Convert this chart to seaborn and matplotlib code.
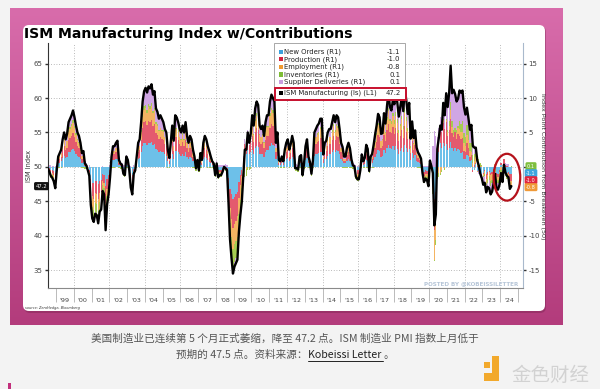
import numpy as np
import pandas as pd
import matplotlib
matplotlib.use("Agg")
import matplotlib.pyplot as plt
import seaborn as sns
from matplotlib.patches import Rectangle, FancyBboxPatch, Ellipse
from matplotlib.transforms import IdentityTransform
from matplotlib.colors import LinearSegmentedColormap
from matplotlib.lines import Line2D
from matplotlib.ticker import FixedLocator, NullFormatter, FuncFormatter

# ---------------- data (monthly, Jul 1998 - Aug 2024) ----------------
START = "1998-07"

ism = [
    49.8, 49.3, 48.7, 48.4, 47.9, 46.9,
    49.5, 51.5, 52.0, 52.5, 54.0, 55.0, 54.0, 54.8, 56.5, 57.0, 57.5, 58.2,
    57.2, 56.0, 55.0, 54.5, 53.5, 52.0, 52.3, 50.5, 50.2, 49.5, 48.7, 44.5,
    42.5, 42.0, 43.2, 43.0, 41.8, 43.5, 43.8, 46.5, 46.0, 40.8, 44.5, 46.0,
    48.5, 51.5, 53.0, 53.0, 53.5, 53.8, 51.0, 50.5, 50.3, 49.0, 48.8, 51.5,
    51.0, 49.5, 47.0, 46.0, 49.0, 49.5, 51.5, 53.5, 54.0, 56.5, 59.5, 61.0,
    61.5, 60.8, 61.7, 61.4, 62.0, 60.5, 61.0, 58.5, 58.0, 57.0, 57.5, 57.0,
    56.5, 55.5, 55.0, 52.5, 51.3, 53.5, 56.0, 53.8, 57.5, 57.2, 56.5, 55.5,
    55.0, 56.0, 55.0, 56.5, 54.5, 53.5, 54.5, 54.0, 52.5, 51.5, 49.8, 51.0,
    49.5, 52.0, 51.0, 53.5, 54.5, 54.0, 53.0, 52.3, 51.5, 50.8, 50.5, 48.8,
    50.5, 48.5, 48.8, 48.8, 49.3, 50.0, 49.8, 49.5, 44.8, 39.5, 36.8, 34.5,
    35.5, 36.0, 36.5, 40.5, 43.0, 45.0, 48.8, 52.5, 52.5, 55.0, 53.5, 54.8,
    57.5, 56.0, 58.5, 59.5, 59.0, 56.0, 55.5, 56.0, 54.5, 56.5, 57.5, 57.5,
    59.5, 60.5, 60.0, 59.5, 53.5, 55.0, 51.0, 50.8, 51.5, 50.8, 52.5, 53.5,
    54.0, 52.5, 53.3, 54.5, 53.5, 49.8, 49.8, 49.6, 51.5, 51.7, 48.8, 50.5,
    53.0, 54.0, 51.5, 50.7, 49.0, 50.9, 55.0, 55.5, 56.0, 56.3, 57.0, 57.0,
    51.8, 53.5, 53.8, 55.0, 55.5, 55.5, 56.5, 57.5, 56.5, 57.5, 57.2, 55.5,
    53.5, 52.9, 51.5, 51.5, 52.8, 53.5, 52.7, 51.1, 50.2, 50.1, 48.6, 48.2,
    48.2, 49.5, 51.8, 50.8, 51.3, 53.2, 52.6, 49.4, 51.5, 51.9, 53.2, 54.7,
    56.0, 57.7, 57.2, 54.8, 54.9, 57.8, 56.3, 58.8, 60.8, 58.7, 58.2, 59.7,
    59.1, 60.8, 59.3, 57.3, 58.7, 60.2, 58.1, 61.3, 59.8, 57.7, 59.3, 54.1,
    56.6, 54.2, 55.3, 52.8, 52.1, 51.7, 51.2, 49.1, 47.8, 48.3, 48.1, 47.2,
    50.9, 50.1, 49.1, 41.5, 43.1, 52.6, 54.2, 56.0, 55.4, 59.3, 57.5, 60.7,
    58.7, 60.8, 64.7, 60.7, 61.2, 60.6, 59.5, 59.9, 61.1, 60.8, 61.1, 58.7,
    57.6, 58.6, 57.1, 55.4, 56.1, 53.0, 52.8, 52.8, 50.9, 50.2, 49.0, 48.4,
    47.4, 47.7, 46.3, 47.1, 46.9, 46.0, 46.4, 47.6, 49.0, 46.7, 46.7, 47.4,
    49.1, 47.8, 50.3, 49.2, 48.7, 48.5, 46.8, 47.2,
]

new_orders = [
    -0.1, -0.2, -0.4, -0.5, -0.6, -0.9,
    -0.2, 0.5, 0.6, 0.8, 1.3, 1.6, 1.3, 1.5, 2.1, 2.2, 2.4, 2.6,
    2.3, 1.9, 1.6, 1.4, 1.1, 0.6, 0.7, 0.2, 0.1, -0.2, -0.4, -1.7,
    -2.3, -2.4, -2.0, -2.1, -2.5, -2.0, -1.9, -1.1, -1.2, -2.8, -1.7, -1.2,
    -0.5, 0.5, 1.0, 1.0, 1.1, 1.2, 0.3, 0.2, 0.1, -0.3, -0.4, 0.5,
    0.3, -0.2, -0.9, -1.2, -0.3, -0.2, 0.5, 1.1, 1.3, 2.1, 3.0, 3.4,
    3.5, 3.2, 3.5, 3.4, 3.6, 3.2, 3.3, 2.6, 2.4, 2.1, 2.3, 2.1,
    2.1, 1.8, 1.6, 0.8, 0.4, 1.1, 1.9, 1.2, 2.3, 2.3, 2.1, 1.8,
    1.6, 1.9, 1.6, 2.1, 1.4, 1.1, 1.4, 1.3, 0.8, 0.5, -0.1, 0.3,
    -0.2, 0.6, 0.3, 1.1, 1.4, 1.3, 1.0, 0.7, 0.5, 0.3, 0.2, -0.4,
    0.2, -0.5, -0.4, -0.4, -0.2, 0.0, -0.1, -0.2, -1.6, -3.2, -4.0, -4.7,
    -4.4, -4.0, -3.6, -2.2, -1.2, -0.5, 0.8, 2.0, 1.8, 2.4, 1.8, 2.1,
    2.4, 1.9, 2.7, 3.0, 2.9, 1.9, 1.8, 1.9, 1.4, 2.1, 2.4, 2.4,
    3.0, 3.4, 3.2, 3.0, 1.1, 1.6, 0.3, 0.3, 0.5, 0.3, 0.8, 1.1,
    1.3, 0.8, 1.1, 1.4, 1.1, -0.1, -0.1, -0.1, 0.5, 0.5, -0.4, 0.2,
    1.0, 1.3, 0.5, 0.2, -0.3, 0.3, 1.6, 1.8, 1.9, 2.0, 2.2, 2.2,
    0.6, 1.1, 1.2, 1.6, 1.8, 1.8, 2.1, 2.4, 2.1, 2.4, 2.3, 1.8,
    1.1, 0.9, 0.5, 0.5, 0.9, 1.1, 0.9, 0.4, 0.1, 0.1, -0.4, -0.5,
    -0.5, -0.2, 0.6, 0.3, 0.4, 1.0, 0.8, -0.2, 0.5, 0.6, 1.0, 1.5,
    1.9, 2.5, 2.3, 1.5, 1.6, 2.5, 2.0, 2.8, 3.2, 2.7, 2.6, 3.1,
    2.5, 3.0, 2.6, 1.9, 2.3, 2.8, 2.2, 3.2, 2.7, 2.1, 2.6, 1.0,
    2.0, 1.3, 1.7, 0.9, 0.7, 0.5, 0.4, -0.3, -0.7, -0.5, -0.6, -0.8,
    0.3, 0.0, -1.6, -4.6, -3.6, 1.2, 2.2, 3.4, 2.7, 3.4, 3.1, 3.3,
    2.4, 2.8, 3.6, 2.7, 2.3, 2.8, 2.3, 2.6, 2.4, 2.0, 2.2, 1.2,
    1.1, 1.7, 1.6, 0.8, 1.0, -0.4, -0.4, 0.4, -0.6, -0.5, -0.9, -1.1,
    -0.9, -0.5, -1.1, -0.7, -0.6, -0.9, -0.7, -0.3, -0.3, -0.9, -1.0, -0.4,
    0.3, -0.6, 0.3, -0.4, -0.9, -0.8, -1.0, -1.1,
]

production = [
    -0.1, -0.2, -0.4, -0.4, -0.6, -0.8,
    -0.1, 0.4, 0.6, 0.7, 1.1, 1.4, 1.1, 1.3, 1.8, 2.0, 2.1, 2.3,
    2.0, 1.7, 1.4, 1.3, 1.0, 0.6, 0.6, 0.1, 0.1, -0.1, -0.4, -1.5,
    -2.0, -2.2, -1.8, -1.9, -2.2, -1.8, -1.7, -0.9, -1.1, -2.5, -1.5, -1.1,
    -0.4, 0.4, 0.8, 0.8, 1.0, 1.1, 0.3, 0.1, 0.1, -0.3, -0.3, 0.4,
    0.3, -0.1, -0.8, -1.1, -0.3, -0.1, 0.4, 1.0, 1.1, 1.8, 2.7, 3.1,
    3.1, 2.9, 3.2, 3.1, 3.2, 2.8, 3.0, 2.3, 2.2, 1.9, 2.0, 1.9,
    1.8, 1.5, 1.4, 0.7, 0.4, 1.0, 1.7, 1.1, 2.0, 2.0, 1.8, 1.5,
    1.4, 1.7, 1.4, 1.8, 1.3, 1.0, 1.3, 1.1, 0.7, 0.4, -0.1, 0.3,
    -0.1, 0.6, 0.3, 1.0, 1.3, 1.1, 0.8, 0.6, 0.4, 0.2, 0.1, -0.3,
    0.1, -0.4, -0.3, -0.3, -0.2, 0.0, -0.1, -0.1, -1.4, -2.8, -3.6, -4.2,
    -3.9, -3.8, -3.6, -2.3, -1.5, -0.8, 0.5, 1.3, 1.3, 1.9, 1.4, 1.8,
    2.1, 1.7, 2.4, 2.7, 2.5, 1.7, 1.5, 1.7, 1.3, 1.8, 2.1, 2.1,
    2.7, 2.9, 2.8, 2.7, 1.0, 1.4, 0.3, 0.2, 0.4, 0.2, 0.7, 1.0,
    1.1, 0.7, 0.9, 1.3, 1.0, -0.1, -0.1, -0.1, 0.4, 0.5, -0.3, 0.1,
    0.8, 1.1, 0.4, 0.2, -0.3, 0.3, 1.4, 1.5, 1.7, 1.8, 2.0, 2.0,
    0.5, 1.0, 1.1, 1.4, 1.5, 1.5, 1.8, 2.1, 1.8, 2.1, 2.0, 1.5,
    1.0, 0.8, 0.4, 0.4, 0.8, 1.0, 0.8, 0.3, 0.1, 0.0, -0.4, -0.5,
    -0.5, -0.1, 0.5, 0.2, 0.4, 0.9, 0.7, -0.2, 0.4, 0.5, 0.9, 1.3,
    1.7, 2.2, 2.0, 1.3, 1.4, 2.2, 1.8, 2.5, 3.0, 2.4, 2.3, 2.7,
    2.3, 2.7, 2.3, 1.8, 2.2, 2.5, 2.0, 2.8, 2.4, 1.9, 2.4, 1.0,
    1.8, 1.2, 1.5, 0.8, 0.6, 0.5, 0.3, -0.2, -0.6, -0.5, -0.5, -0.8,
    0.3, 0.1, -0.5, -4.5, -3.4, 1.2, 2.2, 2.6, 2.4, 3.0, 2.4, 3.2,
    2.1, 2.6, 3.4, 2.2, 2.1, 2.2, 1.8, 2.2, 2.1, 2.0, 2.0, 1.1,
    1.1, 1.8, 1.1, 0.7, 0.7, -0.3, 0.3, 0.2, 0.1, 0.4, -0.1, -0.5,
    -0.2, -0.1, -0.6, -0.5, -0.1, -0.3, -0.4, -0.4, 0.2, -0.3, -0.4, -0.4,
    0.2, -0.3, 0.9, 0.3, 0.1, -0.3, -1.1, -1.0,
]

employment = [
    0.0, -0.1, -0.3, -0.3, -0.4, -0.6,
    -0.1, 0.3, 0.4, 0.5, 0.7, 0.9, 0.7, 0.9, 1.2, 1.3, 1.4, 1.5,
    1.3, 1.1, 0.9, 0.8, 0.6, 0.4, 0.4, 0.1, 0.0, -0.1, -0.3, -1.1,
    -1.5, -1.6, -1.4, -1.4, -1.6, -1.3, -1.2, -0.7, -0.8, -1.8, -1.1, -0.8,
    -0.3, 0.3, 0.5, 0.5, 0.6, 0.7, 0.2, 0.1, 0.1, -0.2, -0.2, 0.3,
    0.2, -0.1, -0.6, -0.8, -0.2, -0.1, 0.3, 0.6, 0.7, 1.2, 1.6, 1.8,
    2.0, 1.8, 2.0, 1.9, 2.0, 1.8, 1.9, 1.4, 1.4, 1.2, 1.3, 1.2,
    1.2, 1.0, 0.9, 0.5, 0.2, 0.6, 1.1, 0.7, 1.2, 1.2, 1.2, 1.0,
    0.9, 1.1, 0.9, 1.2, 0.8, 0.6, 0.8, 0.7, 0.5, 0.3, 0.0, 0.2,
    -0.1, 0.4, 0.2, 0.6, 0.8, 0.7, 0.5, 0.4, 0.3, 0.1, 0.1, -0.2,
    0.1, -0.3, -0.2, -0.2, -0.1, 0.0, 0.0, -0.1, -1.0, -2.1, -2.6, -3.1,
    -2.9, -2.9, -3.0, -2.4, -2.1, -1.8, -1.2, -0.5, -0.3, 0.2, 0.0, 0.3,
    1.3, 1.1, 1.5, 1.7, 1.6, 1.1, 1.0, 1.1, 0.8, 1.2, 1.3, 1.3,
    1.7, 1.9, 1.8, 1.7, 0.6, 0.9, 0.2, 0.1, 0.3, 0.1, 0.5, 0.6,
    0.7, 0.5, 0.6, 0.8, 0.6, 0.0, 0.0, -0.1, 0.3, 0.3, -0.2, 0.1,
    0.5, 0.7, 0.3, 0.1, -0.2, 0.2, 0.9, 1.0, 1.1, 1.1, 1.3, 1.3,
    0.3, 0.6, 0.7, 0.9, 1.0, 1.0, 1.2, 1.4, 1.2, 1.4, 1.3, 1.0,
    0.6, 0.5, 0.3, 0.3, 0.5, 0.6, 0.5, 0.2, 0.0, 0.0, -0.3, -0.4,
    -0.4, -0.1, 0.3, 0.1, 0.2, 0.6, 0.5, -0.1, 0.3, 0.3, 0.6, 0.8,
    1.1, 1.4, 1.3, 0.9, 0.9, 1.4, 1.1, 1.5, 1.9, 1.5, 1.4, 1.6,
    1.5, 1.7, 1.5, 1.2, 1.4, 1.6, 1.3, 1.8, 1.6, 1.2, 1.5, 0.8,
    1.2, 0.8, 1.0, 0.5, 0.4, 0.3, 0.2, -0.2, -0.5, -0.3, -0.4, -0.6,
    0.1, 0.0, -1.2, -4.5, -3.6, -1.4, -0.9, -0.9, -0.4, 0.4, -0.2, 0.3,
    0.5, 0.6, 1.2, 0.9, 0.2, 0.1, 0.8, 0.9, 1.0, 1.0, 0.8, 1.1,
    0.8, 1.1, 1.2, 0.8, 0.5, 0.5, 0.5, 0.8, -0.1, 0.1, 0.2, 0.1,
    -0.2, -0.4, -0.6, -0.6, -0.6, -0.8, -0.8, -0.6, 0.2, -0.5, -0.5, -0.6,
    -0.5, -0.5, -0.2, -0.3, -0.2, -0.6, -0.9, -0.8,
]

inventories = [
    -0.4, -0.5, -0.5, -0.6, -0.7, -0.8,
    -0.4, -0.2, -0.1, -0.1, 0.0, 0.1, 0.0, 0.1, 0.2, 0.3, 0.3, 0.4,
    0.3, 0.2, 0.1, 0.1, 0.0, -0.1, -0.1, -0.3, -0.3, -0.4, -0.5, -1.2,
    -1.5, -1.6, -1.4, -1.4, -1.6, -1.3, -1.3, -0.9, -0.9, -1.7, -1.2, -0.9,
    -0.6, -0.2, -0.1, -0.1, 0.0, 0.0, -0.2, -0.3, -0.3, -0.5, -0.5, -0.2,
    -0.2, -0.4, -0.8, -0.9, -0.5, -0.4, -0.2, 0.0, 0.0, 0.2, 0.5, 0.6,
    0.4, 0.4, 0.5, 0.4, 0.5, 0.3, 0.4, 0.2, 0.2, 0.1, 0.1, 0.1,
    0.2, 0.1, 0.1, -0.1, -0.2, 0.0, 0.2, 0.0, 0.2, 0.2, 0.2, 0.1,
    0.1, 0.2, 0.1, 0.2, 0.1, 0.0, 0.1, 0.0, -0.1, -0.2, -0.4, -0.2,
    -0.4, -0.1, -0.2, 0.0, 0.1, 0.0, -0.1, -0.1, -0.2, -0.2, -0.3, -0.5,
    -0.3, -0.6, -0.5, -0.5, -0.5, -0.3, -0.4, -0.4, -1.1, -1.9, -2.3, -2.7,
    -2.6, -2.6, -2.6, -2.2, -2.0, -1.9, -1.6, -1.0, -1.0, -0.4, -0.5, -0.3,
    0.2, 0.1, 0.3, 0.4, 0.3, 0.1, 0.1, 0.1, 0.1, 0.2, 0.2, 0.2,
    0.4, 0.4, 0.4, 0.4, 0.0, 0.1, -0.2, -0.2, -0.2, -0.2, -0.1, 0.0,
    0.0, -0.1, 0.0, 0.1, 0.0, -0.4, -0.4, -0.4, -0.2, -0.2, -0.5, -0.3,
    -0.1, 0.0, -0.2, -0.2, -0.5, -0.2, 0.1, 0.1, 0.2, 0.2, 0.3, 0.3,
    -0.2, 0.0, 0.0, 0.1, 0.1, 0.1, 0.2, 0.3, 0.2, 0.3, 0.3, 0.1,
    0.0, -0.1, -0.2, -0.2, -0.1, 0.0, -0.1, -0.2, -0.3, -0.3, -0.6, -0.6,
    -0.6, -0.4, -0.2, -0.2, -0.2, -0.1, -0.1, -0.4, -0.2, -0.1, -0.1, 0.1,
    0.2, 0.3, 0.3, 0.1, 0.1, 0.3, 0.2, 0.4, 0.5, 0.3, 0.3, 0.4,
    0.5, 0.6, 0.5, 0.4, 0.4, 0.5, 0.4, 0.7, 0.6, 0.5, 0.5, 0.3,
    0.3, 0.1, 0.2, 0.0, -0.1, -0.1, -0.1, -0.4, -0.6, -0.6, -0.6, -0.7,
    -0.2, -0.4, -0.6, -0.1, -0.8, -0.4, -0.6, -0.3, -0.3, 0.1, -0.2, 0.2,
    0.4, 0.6, 1.2, 0.8, 0.8, 0.6, 0.4, 0.2, 1.1, 1.3, 1.6, 1.5,
    1.3, 1.5, 1.4, 1.2, 1.3, 1.2, 1.0, 1.0, 0.8, 0.7, 0.4, 0.2,
    -0.2, -0.3, -0.4, -0.5, -0.6, -0.8, -0.5, -0.5, -0.5, -0.5, -0.5, -0.6,
    -0.4, -0.5, -0.6, -0.6, -0.6, -0.2, -0.2, 0.1,
]

supplier_deliveries = [
    0.3, 0.3, 0.3, 0.2, 0.2, 0.1,
    0.3, 0.5, 0.6, 0.7, 0.9, 1.0, 0.9, 1.0, 1.2, 1.3, 1.4, 1.4,
    1.3, 1.1, 1.0, 0.9, 0.8, 0.6, 0.6, 0.4, 0.3, 0.3, 0.3, -0.1,
    -0.2, -0.3, -0.2, -0.2, -0.3, -0.1, -0.1, 0.1, 0.0, -0.4, -0.1, 0.0,
    0.3, 0.5, 0.7, 0.7, 0.8, 0.8, 0.4, 0.4, 0.3, 0.3, 0.3, 0.5,
    0.4, 0.3, 0.1, 0.0, 0.3, 0.3, 0.5, 0.8, 0.9, 1.2, 1.7, 2.1,
    2.5, 2.5, 2.5, 2.6, 2.7, 2.4, 2.4, 2.0, 1.8, 1.7, 1.8, 1.7,
    1.2, 1.1, 1.0, 0.7, 0.5, 0.8, 1.1, 0.8, 1.8, 1.5, 1.2, 1.1,
    1.0, 1.1, 1.0, 1.2, 0.9, 0.8, 0.9, 0.9, 0.7, 0.5, 0.4, 0.4,
    0.3, 0.6, 0.4, 0.8, 0.9, 0.9, 0.7, 0.6, 0.5, 0.4, 0.4, 0.3,
    0.4, 0.3, 0.3, 0.3, 0.3, 0.3, 0.4, 0.3, -0.1, -0.5, -0.7, -0.8,
    -0.7, -0.7, -0.7, -0.4, -0.2, 0.0, 0.3, 0.7, 0.7, 0.9, 0.8, 0.9,
    1.5, 1.2, 1.6, 1.7, 1.7, 1.2, 1.1, 1.2, 0.9, 1.2, 1.5, 1.5,
    1.7, 1.9, 1.8, 1.7, 0.8, 1.0, 0.4, 0.4, 0.5, 0.4, 0.7, 0.8,
    0.9, 0.7, 0.7, 0.9, 0.8, 0.4, 0.4, 0.3, 0.5, 0.5, 0.3, 0.4,
    0.7, 0.9, 0.5, 0.4, 0.3, 0.4, 1.0, 1.1, 1.1, 1.2, 1.3, 1.3,
    0.6, 0.8, 0.8, 1.0, 1.1, 1.1, 1.2, 1.3, 1.2, 1.3, 1.3, 1.1,
    0.8, 0.7, 0.5, 0.5, 0.7, 0.8, 0.7, 0.4, 0.3, 0.3, 0.3, 0.2,
    0.2, 0.3, 0.6, 0.4, 0.5, 0.8, 0.7, 0.3, 0.5, 0.6, 0.8, 1.0,
    1.1, 1.3, 1.3, 1.0, 0.9, 1.4, 1.2, 1.6, 2.2, 1.8, 1.6, 1.9,
    2.3, 2.8, 2.4, 2.0, 2.4, 2.8, 2.2, 2.8, 2.5, 2.0, 2.3, 1.0,
    1.3, 0.8, 0.9, 0.6, 0.5, 0.5, 0.4, 0.2, 0.2, 0.2, 0.2, 0.1,
    0.4, 0.4, 3.0, 5.2, 4.5, 2.0, 1.3, 1.2, 1.0, 2.4, 2.4, 3.7,
    3.3, 4.2, 5.3, 4.1, 5.8, 4.9, 4.2, 4.0, 4.5, 4.5, 4.5, 3.8,
    3.3, 2.5, 1.8, 1.9, 2.6, 2.0, 1.4, 0.4, 0.7, -0.5, -0.6, -0.3,
    -1.1, -1.0, -1.0, -0.6, -1.2, -1.2, -1.2, -0.6, -0.6, -1.1, -0.9, -0.6,
    -0.5, -0.3, -0.1, 0.2, 0.3, 0.4, 0.0, 0.1,
]

series_names = ["New Orders (R1)", "Production (R1)", "Employment (R1)",
                "Inventories (R1)", "Supplier Deliveries (R1)"]
line_name = "ISM Manufacturing (ls) (L1)"
year_labels = ["'99", "'00", "'01", "'02", "'03", "'04", "'05", "'06", "'07",
               "'08", "'09", "'10", "'11", "'12", "'13", "'14", "'15", "'16",
               "'17", "'18", "'19", "'20", "'21", "'22", "'23", "'24"]
left_ticks = [35, 40, 45, 50, 55, 60, 65]
right_ticks = [-15, -10, -5, 0, 5, 10, 15]

TITLE = "ISM Manufacturing Index w/Contributions"
CAP1 = "美国制造业已连续第 5 个月正式萎缩，降至 47.2 点。ISM 制造业 PMI 指数上月低于"
CAP2A = "预期的 47.5 点。资料来源："
CAP2B = "Kobeissi Letter "
CAP2C = "。"

comps = [new_orders, production, employment, inventories, supplier_deliveries]
for c in comps:
    assert len(c) == len(ism), (len(c), len(ism))

bar_colors = ['#6dc0e9', '#e45a6e', '#f4b462', '#a6cc52', '#d0a6e4']
leg_colors = ['#3aa0dc', '#d3203c', '#f09a30', '#7cbc34', '#c89ee0']

# ---------------- figure ----------------
W, H = 600, 389
sns.set_style("white")
plt.rcParams['font.family'] = ['DejaVu Sans']
CJK = ['Noto Sans CJK SC', 'DejaVu Sans']

fig = plt.figure(figsize=(W / 100, H / 100), dpi=100)
fig.patch.set_facecolor('#f3f3f3')
RND = fig.canvas.get_renderer()
IT = IdentityTransform()


def FX(x):
    return x / W


def FY(y):
    return 1 - y / H


def box_px(x0, y0, x1, y1, z=10, **kw):
    p = Rectangle((x0, H - y1), x1 - x0, y1 - y0, transform=IT, zorder=z, **kw)
    fig.add_artist(p)
    return p


def text_px(x, y, s, z=12, **kw):
    return fig.text(FX(x), FY(y), s, zorder=z, **kw)


def fit(txt, target, along='w'):
    bb = txt.get_window_extent(RND)
    cur = bb.width if along == 'w' else bb.height
    txt.set_fontsize(txt.get_fontsize() * target / cur)


# pink frame with gradient
bg = fig.add_axes([FX(9.5), FY(325), (562 - 9.5) / W, (325 - 8) / H], zorder=-10)
bg.imshow(np.linspace(0, 1, 200).reshape(-1, 1), aspect='auto',
          cmap=LinearSegmentedColormap.from_list('pk', ['#d86cab', '#b33c7c']),
          extent=[0, 1, 0, 1])
bg.set_axis_off()

# white panel
fig.add_artist(FancyBboxPatch((24, H - 313), 522, 313 - 26,
                              boxstyle="round,pad=0,rounding_size=6", transform=IT,
                              fc='#6a1f45', ec='none', alpha=0.35, zorder=-6))
fig.add_artist(FancyBboxPatch((23, H - 311), 545 - 23, 311 - 25,
                              boxstyle="round,pad=0,rounding_size=6", transform=IT,
                              fc='white', ec='none', zorder=-5))

# axes
AL, AR, AT, AB = 48, 523, 43, 288
ax = fig.add_axes([FX(AL), FY(AB), (AR - AL) / W, (AB - AT) / H])
ax2 = ax.twinx()
ax.set_zorder(3)
ax.patch.set_visible(False)

dates = pd.date_range(START, periods=len(ism), freq="MS")
t = np.asarray(dates.year + (dates.month - 0.5) / 12.0, dtype=float)
n = len(t)

# stacked contribution bars (right axis)
pos_base = np.zeros(n)
neg_base = np.zeros(n)
bw = 1 / 12 * 0.85
for vals, col in zip(comps, bar_colors):
    v = np.asarray(vals, dtype=float)
    p = np.clip(v, 0, None)
    q = np.clip(v, None, 0)
    ax2.bar(t, p, bottom=pos_base, width=bw, color=col, linewidth=0, zorder=2)
    ax2.bar(t, q, bottom=neg_base, width=bw, color=col, linewidth=0, zorder=2)
    pos_base += p
    neg_base += q

# ISM line (left axis)
sns.lineplot(x=t, y=np.asarray(ism), ax=ax, color='black', linewidth=1.7,
             zorder=5, legend=False)

ax.set_xlim(1998.55, 2025.28)
ax.set_ylim(32.4, 68.0)
ax2.set_ylim(-17.6, 18.0)

# grid
grid_kw = dict(color='#a3a3a3', linestyle=(0, (1, 2.2)), linewidth=0.6)
ax2.set_yticks(right_ticks)
ax2.yaxis.grid(True, **grid_kw)
ax2.set_axisbelow(True)
for yr in range(2000, 2025, 2):
    ax2.axvline(yr, zorder=0.5, **grid_kw)
ax.grid(False)

# y ticks
ax.set_yticks(left_ticks)
ax.set_ylabel('')
ax.set_xlabel('')
ax.tick_params(axis='y', which='major', direction='out', length=2.5, width=1.0,
               color='#333333', labelsize=5, labelcolor='#444444', pad=1.5,
               left=True)
ax2.yaxis.set_major_formatter(FuncFormatter(lambda v, p: '' if abs(v) < 1e-9 else f"{v:g}"))
ax2.tick_params(axis='y', which='major', direction='out', length=2.5, width=1.0,
                color='#333333', labelsize=5, labelcolor='#444444', pad=1.5,
                right=True)

# x ticks: separators at year boundaries, labels mid-year
ax.xaxis.set_major_locator(FixedLocator(list(range(1999, 2026))))
ax.xaxis.set_major_formatter(NullFormatter())
ax.set_xticks([y + 0.5 for y in range(1999, 2025)], minor=True)
ax.set_xticklabels(year_labels, minor=True)
ax.tick_params(axis='x', which='major', direction='out', length=10, width=0.5,
               color='#a0a0a0', bottom=True)
ax.tick_params(axis='x', which='minor', length=0, pad=7, labelsize=4.6,
               labelcolor='#444444', bottom=True)

# spines
for s in ['top', 'right']:
    ax.spines[s].set_visible(False)
ax.spines['left'].set_color('#333333')
ax.spines['left'].set_linewidth(0.8)
ax.spines['bottom'].set_color('#8a8a8a')
ax.spines['bottom'].set_linewidth(0.8)
for s in ['top', 'left', 'bottom']:
    ax2.spines[s].set_visible(False)
ax2.spines['right'].set_color('#a9b9cc')
ax2.spines['right'].set_linewidth(0.8)

# highlight ellipse
last12 = np.asarray(ism[-12:])
ax.add_patch(Ellipse((t[-1] - 0.25, (last12.min() + last12.max()) / 2), width=1.5,
                     height=6.8, fill=False, edgecolor='#b5121b', linewidth=1.6,
                     zorder=6, clip_on=False))

# last value tags
ax.annotate(f"{ism[-1]:.1f}", xy=(0, ism[-1]), xycoords=('axes fraction', 'data'),
            xytext=(-6.5, 0), textcoords='offset pixels', ha='center', va='center',
            fontsize=3.8, color='white', annotation_clip=False, zorder=20,
            bbox=dict(boxstyle='round,pad=0.3,rounding_size=0.3', fc='#111111', ec='none'))
tags = [(inventories, '#7fbf3f'), (new_orders, '#3ea6df'),
        (production, '#e0263f'), (employment, '#f09a38')]
for i, (vals, col) in enumerate(tags):
    ax2.annotate(f"{vals[-1]:.1f}", xy=(1, inventories[-1]),
                 xycoords=('axes fraction', 'data'), xytext=(8, -7 * i),
                 textcoords='offset pixels', ha='center', va='center',
                 fontsize=3.6, color='white', annotation_clip=False, zorder=20,
                 bbox=dict(boxstyle='round,pad=0.3,rounding_size=0.3', fc=col, ec='none'))

# axis labels
t_yl = text_px(29, 166, "ISM Index", rotation=90, ha='center', va='center',
               fontsize=5.5, color='#333333')
fit(t_yl, 32, 'h')
t_yr = text_px(542, 166, "Index Point Contribution from Breakeven (50)", rotation=270,
               ha='center', va='center', fontsize=5.5, color='#333333')
fit(t_yr, 145, 'h')

# legend
box_px(274, 43, 405, 99.5, z=14, fc='white', ec='#9a9a9a', lw=0.6)
ism_txt = text_px(284.5, 93.2, line_name, z=16, ha='left', va='center', fontsize=5,
                  color='#222222')
fit(ism_txt, 94)
fs_leg = ism_txt.get_fontsize()
box_px(278.5, 93.2 - 2.2, 282.7, 93.2 + 2.0, z=15, fc='black', ec='none')
text_px(401, 93.2, f"{ism[-1]:.1f}", z=16, ha='right', va='center', fontsize=fs_leg,
        color='#222222')
rows_y = [51.7, 59.3, 67.0, 74.6, 82.2]
for yv, nm, col, vals in zip(rows_y, series_names, leg_colors, comps):
    box_px(278.5, yv - 2.2, 282.7, yv + 2.0, z=15, fc=col, ec='none')
    text_px(284.5, yv, nm, z=16, ha='left', va='center', fontsize=fs_leg,
            color='#222222')
    text_px(400, yv, f"{vals[-1]:.1f}", z=16, ha='right', va='center',
            fontsize=fs_leg, color='#222222')
red = Rectangle((275, H - 99.5), 130.5, 12, transform=IT, fill=False,
                ec='#c8102e', lw=1.4, zorder=17)
fig.add_artist(red)

# title, watermark, source
t_title = text_px(24, 38, TITLE, ha='left', va='baseline', fontweight='bold',
                  color='black', fontsize=11)
fit(t_title, 328)
t_wm = text_px(518, 285.5, "POSTED BY @KOBEISSILETTER", ha='right', va='baseline',
               color='#b7c6d8', fontweight='bold', fontsize=5, z=18)
fit(t_wm, 96)
t_src = text_px(25, 309.5, "source: ZeroHedge, Bloomberg", ha='left', va='baseline',
                style='italic', color='#333333', fontsize=3.5)
fit(t_src, 56)

# caption
c1 = text_px(285, 339, CAP1, ha='center', va='center', family=CJK, color='#555555',
             fontsize=7.5)
fit(c1, 385)
fs_c = c1.get_fontsize()
parts = []
for s, col in [(CAP2A, '#555555'), (CAP2B, '#222222'), (CAP2C, '#555555')]:
    parts.append(text_px(0, 355, s, ha='left', va='center', family=CJK, color=col,
                         fontsize=fs_c))
widths = [p.get_window_extent(RND).width for p in parts]
x0 = 285 - sum(widths) / 2
xs = []
for p, w in zip(parts, widths):
    p.set_x(FX(x0))
    xs.append(x0)
    x0 += w
fig.add_artist(Line2D([xs[1], xs[1] + widths[1]], [H - 361, H - 361],
                      transform=IT, color='#222222', lw=0.7, zorder=12))

# logo
box_px(484, 362, 490, 368, z=12, fc='#f2a92c', ec='none')
box_px(492, 356, 499, 381, z=12, fc='#f2a92c', ec='none')
box_px(484, 373, 499, 381, z=12, fc='#f2a92c', ec='none')
t_logo = text_px(511, 375, "金色财经", ha='left', va='center', family=CJK,
                 color='#d2d2d2', fontsize=14)
fit(t_logo, 78)
box_px(8, 383, 11, 389, z=12, fc='#c2307c', ec='none')

fig.savefig("out.png", dpi=100, facecolor=fig.get_facecolor())
